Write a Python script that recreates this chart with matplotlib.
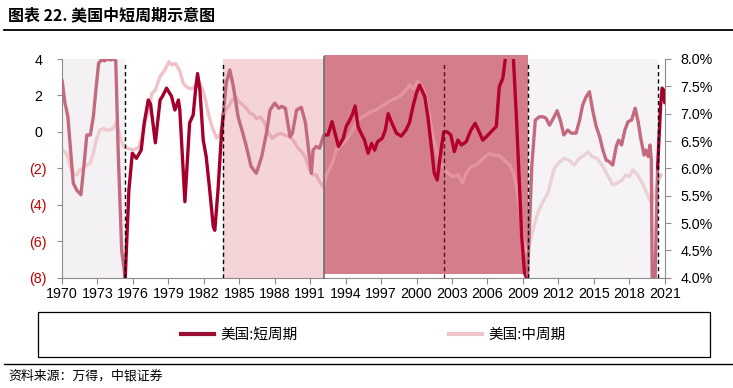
import numpy as np
import matplotlib
matplotlib.use("Agg")
import matplotlib.pyplot as plt
from matplotlib import font_manager
from matplotlib.patches import Rectangle
from matplotlib.lines import Line2D
from matplotlib.font_manager import FontProperties

# ---------------- data ----------------
short_x = [1970.0, 1970.25, 1970.5, 1970.75, 1970.95, 1971.25, 1971.6, 1971.9, 1972.1, 1972.4,
           1972.65, 1972.9, 1973.1, 1973.35, 1973.6, 1973.85, 1974.1, 1974.35, 1974.55, 1974.75,
           1975.05, 1975.35, 1975.66, 1975.95, 1976.3, 1976.7, 1976.96, 1977.3, 1977.5, 1977.9,
           1978.3, 1978.5, 1978.85, 1979.27, 1979.55, 1979.85, 1979.97, 1980.4, 1980.8, 1981.1,
           1981.3, 1981.47, 1981.67, 1981.95, 1982.2, 1982.5, 1982.8, 1982.93, 1983.2, 1983.5,
           1983.65, 1983.9, 1984.2, 1984.5, 1984.9, 1985.3, 1985.6, 1986.0, 1986.45, 1986.9,
           1987.3, 1987.6, 1988.0, 1988.35, 1988.6, 1988.9, 1989.3, 1989.5, 1989.85, 1990.25,
           1990.6, 1990.9, 1991.1, 1991.25, 1991.5, 1991.8, 1992.1, 1992.2, 1992.5, 1992.85,
           1993.1, 1993.4, 1993.8, 1994.05, 1994.35, 1994.6, 1994.8, 1995.05, 1995.3, 1995.6,
           1995.9, 1996.2, 1996.45, 1996.7, 1997.1, 1997.36, 1997.6, 1997.9, 1998.3, 1998.7,
           1999.1, 1999.4, 1999.7, 1999.98, 2000.26, 2000.7, 2000.96, 2001.25, 2001.5, 2001.75,
           2002.0, 2002.3, 2002.6, 2002.9, 2003.2, 2003.5, 2003.8, 2004.2, 2004.6, 2004.96,
           2005.3, 2005.6, 2005.9, 2006.3, 2006.75, 2007.0, 2007.3, 2007.5, 2007.8, 2008.0,
           2008.2, 2008.45, 2008.7, 2008.9, 2009.14, 2009.3, 2009.4, 2009.56, 2009.75, 2010.05,
           2010.4, 2010.7, 2010.96, 2011.25, 2011.5, 2011.9, 2012.2, 2012.46, 2012.8, 2013.1,
           2013.5, 2013.8, 2014.06, 2014.35, 2014.63, 2014.9, 2015.2, 2015.5, 2015.77, 2016.05,
           2016.3, 2016.6, 2016.9, 2017.1, 2017.35, 2017.63, 2017.9, 2018.2, 2018.5, 2018.75,
           2019.0, 2019.26, 2019.4, 2019.6, 2019.75, 2019.87, 2019.95, 2020.15, 2020.4, 2020.5,
           2020.65, 2020.78, 2020.9, 2021.0]
short_y = [2.85, 1.6, 0.83, -1.2, -2.8, -3.2, -3.45, -1.55, -0.17, -0.17,
           0.83, 2.5, 3.78, 3.95, 3.9, 4.0, 3.95, 4.0, 3.9, -1.0,
           -6.5, -8.0, -3.2, -1.17, -1.45, -1.0, 0.5, 1.75, 1.5, -0.6,
           1.75, 1.95, 2.4, 1.95, 1.2, 1.75, 1.2, -3.83, 0.5, 0.93,
           2.3, 3.2, 2.3, -0.45, -1.35, -3.2, -5.2, -5.4, -3.2, -0.07,
           1.0, 2.7, 3.4, 2.5, 0.83, -0.07, -0.8, -1.9, -2.27, -1.35,
           -0.07, 1.2, 1.58, 1.3, 1.4, 1.3, -0.27, -0.07, 1.2, 1.35,
           0.5, -1.17, -2.27, -1.0, -0.8, -0.9, -0.27, -0.17, -0.17, 0.56,
           -0.07, -0.8, -0.35, 0.3, 0.65, 1.0, 1.42, 0.3, -0.07, -0.45,
           -1.17, -0.63, -1.0, -0.54, -0.35, 0.1, 1.0, 0.5, -0.07, -0.23,
           0.1, 0.5, 1.4, 2.1, 2.57, 1.93, 0.83, -0.8, -2.27, -2.64,
           -1.35, 0.0, 0.0, -0.17, -1.08, -0.45, -0.72, -0.54, 0.1, 0.47,
           0.0, -0.45, -0.27, 0.0, 0.3, 2.48, 2.94, 3.95, 4.8, 4.8,
           4.0, 0.83, -2.8, -5.75, -7.75, -8.0, -7.9, -5.2, -1.9, 0.65,
           0.83, 0.83, 0.75, 0.37, 0.65, 1.16, 0.56, -0.17, 0.1, -0.07,
           -0.07, 0.65, 1.48, 1.93, 2.2, 1.2, 0.3, -0.27, -1.0, -1.55,
           -1.63, -1.82, -0.8, -0.45, -0.72, 0.1, 0.56, 0.65, 1.3, 0.56,
           -0.45, -1.27, -1.0, -1.35, -0.72, -1.55, -9.0, -9.0, -2.0, -0.6,
           1.4, 2.4, 2.3, 1.6]

mid_x = [1970.0, 1970.4, 1970.7, 1970.95, 1971.25, 1971.5, 1971.8, 1972.1, 1972.37, 1972.65,
         1972.9, 1973.2, 1973.5, 1973.8, 1974.05, 1974.35, 1974.6, 1974.9, 1975.2, 1975.35,
         1975.5, 1976.0, 1976.45, 1976.7, 1977.0, 1977.35, 1977.6, 1977.9, 1978.3, 1978.7,
         1979.05, 1979.3, 1979.6, 1979.97, 1980.25, 1980.54, 1980.8, 1981.1, 1981.4, 1981.6,
         1981.86, 1982.15, 1982.4, 1982.7, 1983.08, 1983.36, 1983.65, 1983.85, 1984.1, 1984.4,
         1984.7, 1984.96, 1985.3, 1985.6, 1985.9, 1986.2, 1986.45, 1986.8, 1987.1, 1987.4,
         1987.8, 1988.15, 1988.5, 1988.85, 1989.27, 1989.55, 1989.97, 1990.3, 1990.6, 1990.95,
         1991.24, 1991.5, 1991.8, 1992.1, 1992.2, 1992.38, 1992.65, 1992.93, 1993.2, 1993.5,
         1993.8, 1994.07, 1994.35, 1994.6, 1994.9, 1995.2, 1995.45, 1995.75, 1996.17, 1996.6,
         1997.0, 1997.45, 1997.87, 1998.3, 1998.7, 1999.1, 1999.4, 1999.7, 2000.1, 2000.5,
         2000.8, 2001.1, 2001.4, 2001.67, 2001.95, 2002.23, 2002.65, 2003.08, 2003.5, 2003.9,
         2004.2, 2004.6, 2005.05, 2005.47, 2005.75, 2006.2, 2006.6, 2007.0, 2007.4, 2007.9,
         2008.2, 2008.45, 2008.7, 2009.0, 2009.3, 2009.4, 2009.56, 2009.85, 2010.25, 2010.7,
         2011.1, 2011.4, 2011.67, 2012.1, 2012.5, 2012.9, 2013.35, 2013.77, 2014.2, 2014.5,
         2014.9, 2015.3, 2015.7, 2016.15, 2016.6, 2017.0, 2017.4, 2017.7, 2018.0, 2018.3,
         2018.7, 2019.1, 2019.5, 2019.8, 2020.1, 2020.4, 2020.7]
mid_y = [6.34, 6.27, 6.03, 5.91, 5.88, 5.97, 6.0, 6.06, 6.09, 6.27,
         6.52, 6.7, 6.73, 6.70, 6.7, 6.73, 6.85, 6.58, 6.4, 6.38,
         6.37, 6.34, 6.37, 6.52, 6.82, 7.07, 7.37, 7.43, 7.68, 7.8,
         7.95, 7.89, 7.92, 7.78, 7.56, 7.49, 7.46, 7.46, 7.56, 7.59,
         7.46, 7.25, 6.98, 6.76, 6.55, 6.61, 6.92, 7.07, 7.13, 7.25,
         7.31, 7.22, 7.16, 7.1, 7.01, 6.98, 6.91, 6.94, 6.85, 6.67,
         6.55, 6.61, 6.64, 6.61, 6.58, 6.52, 6.37, 6.3, 6.2, 5.97,
         5.88, 5.88, 5.76, 5.66, 5.72, 5.88, 6.0, 6.12, 6.34, 6.40,
         6.46, 6.52, 6.61, 6.70, 6.85, 6.91, 6.94, 6.98, 7.04, 7.07,
         7.13, 7.19, 7.25, 7.28, 7.34, 7.43, 7.53, 7.45, 7.59, 7.49,
         7.28, 6.94, 6.58, 6.34, 6.12, 6.03, 5.91, 5.85, 5.88, 5.73,
         5.91, 6.03, 6.06, 6.15, 6.21, 6.27, 6.24, 6.24, 6.15, 6.06,
         5.91, 5.66, 5.30, 4.75, 4.45, 4.5, 4.63, 4.87, 5.18, 5.39,
         5.54, 5.79, 6.0, 6.12, 6.18, 6.15, 6.06, 6.18, 6.24, 6.30,
         6.21, 6.18, 6.06, 5.88, 5.70, 5.73, 5.79, 5.88, 5.85, 5.97,
         5.88, 5.73, 5.54, 5.39, 5.45, 5.75, 5.88]

phase_edges = [1970.0, 1975.35, 1983.65, 1992.2, 2009.4, 2020.4, 2021.05]
phase_fill = ['#f4f1f5', None, '#f4d4d6', '#d47d8b', '#f5f3f6', None]
short_cols = ['#c46a7f', '#a3002c', '#c46a7f', '#b3002c', '#c46a7f', '#a3002c']
mid_cols = ['#efcbcf', '#f0c2c7', '#e8adb4', '#e3949f', '#ebd0d4', '#efc0c6']
dashed_x = [1975.35, 1983.65, 2002.3, 2009.4, 2020.4]
solid_x = [1992.2]
xticks = list(range(1970, 2022, 3))
left_ticks = [4, 2, 0, -2, -4, -6, -8]
right_ticks = [4.0, 4.5, 5.0, 5.5, 6.0, 6.5, 7.0, 7.5, 8.0]

title = "图表 22. 美国中短周期示意图"
source = "资料来源：万得，中银证券"
labels = ["美国:短周期", "美国:中周期"]

# ---------------- fonts ----------------
names = {f.name for f in font_manager.fontManager.ttflist}
if 'Liberation Sans Narrow' in names:
    tick_family, tick_size = ['Liberation Sans Narrow', 'DejaVu Sans'], 12
else:
    tick_family, tick_size = ['Liberation Sans', 'DejaVu Sans'], 10.3
cjk = ['Noto Sans CJK SC', 'DejaVu Sans']

W, H = 733, 388
fig = plt.figure(figsize=(W / 100, H / 100), dpi=100, facecolor='white')
x0, x1, ytop, ybot = 62, 665.3, 59, 277.7
ax = fig.add_axes([x0 / W, 1 - ybot / H, (x1 - x0) / W, (ybot - ytop) / H])
ax2 = ax.twinx()
ax.set_zorder(2)
ax2.set_zorder(1)
ax.patch.set_visible(False)

ax.set_xlim(1970, 2021.05)
ax.set_ylim(-8, 4)
ax2.set_ylim(4, 8)

# shading (bottom layer)
for i, c in enumerate(phase_fill):
    if c is None:
        continue
    a, b = phase_edges[i], phase_edges[i + 1]
    if i == 3:
        ax2.axvspan(a, b, ymin=0.015, ymax=1.02, color=c, lw=0, clip_on=False, zorder=0)
    else:
        ax2.axvspan(a, b, color=c, lw=0, zorder=0)


def seg_plot(axis, xs, ys, cols, lw):
    xs = np.asarray(xs)
    ys = np.asarray(ys)
    for i, c in enumerate(cols):
        a, b = phase_edges[i], phase_edges[i + 1]
        m = (xs >= a - 1e-9) & (xs <= b + 1e-9)
        if m.sum() >= 2:
            axis.plot(xs[m], ys[m], color=c, lw=lw, solid_joinstyle='round',
                      solid_capstyle='round', zorder=3)


seg_plot(ax2, mid_x, mid_y, mid_cols, 2.4)
seg_plot(ax, short_x, short_y, short_cols, 2.4)

for xv in dashed_x:
    col = '#5a1020' if xv == 2002.3 else 'black'
    ax.axvline(xv, ymin=0, ymax=0.98, color=col, lw=1.0, ls=(0, (3, 2.2)), zorder=4)
for xv in solid_x:
    ax.axvline(xv, ymin=0, ymax=1.01, color='#6e6e6e', lw=1.2, zorder=4, clip_on=False)

# axes styling
spine_c = '#8c8c8c'
for s in ['top', 'right']:
    ax.spines[s].set_visible(False)
for s in ['top', 'left', 'bottom']:
    ax2.spines[s].set_visible(False)
for s in ['left', 'bottom']:
    ax.spines[s].set_color(spine_c)
ax2.spines['right'].set_color(spine_c)

ax.set_xticks(xticks)
ax.set_xticklabels([str(t) for t in xticks], family=tick_family, size=tick_size)
ax.set_yticks(left_ticks)
ylabs = []
for v in left_ticks:
    ylabs.append("(%d)" % abs(v) if v < 0 else "%d " % v)
ax.set_yticklabels(ylabs, family=tick_family, size=tick_size)
for lbl, v in zip(ax.get_yticklabels(), left_ticks):
    lbl.set_color('#c00000' if v < 0 else 'black')
ax2.set_yticks(right_ticks)
ax2.set_yticklabels(["%.1f%%" % v for v in right_ticks], family=tick_family, size=tick_size)

ax.tick_params(axis='x', direction='out', length=4, color=spine_c, pad=3)
ax.tick_params(axis='y', direction='out', length=3.5, color=spine_c, pad=7.5)
ax2.tick_params(axis='y', direction='out', length=4, color=spine_c, pad=7)

# title & rules
fig.text(8 / W, 1 - 15 / H, title, family=cjk, weight='bold', size=11.5, va='center', ha='left')
fig.add_artist(Line2D([4 / W, 1.0], [1 - 29.5 / H] * 2, color='black', lw=1.3))
fig.add_artist(Line2D([4 / W, 1.0], [1 - 364 / H] * 2, color='black', lw=1.0))
fig.text(8 / W, 1 - 376 / H, source, family=cjk, size=9.3, va='center', ha='left', style='italic')

# legend
fig.add_artist(Rectangle((38 / W, 1 - 357 / H), 672 / W, 45 / H, transform=fig.transFigure,
                         fill=False, edgecolor='black', lw=0.9))
handles = [Line2D([], [], color='#9b0f33', lw=3), Line2D([], [], color='#f0c4c8', lw=3)]
fig.legend(handles, labels, loc='center', bbox_to_anchor=(373 / W, 1 - 335 / H), ncol=2,
           frameon=False, handlelength=2.3, handletextpad=0.4, columnspacing=10.4,
           prop=FontProperties(family=cjk, size=10.5))

fig.savefig('out.png', dpi=100, facecolor='white')
